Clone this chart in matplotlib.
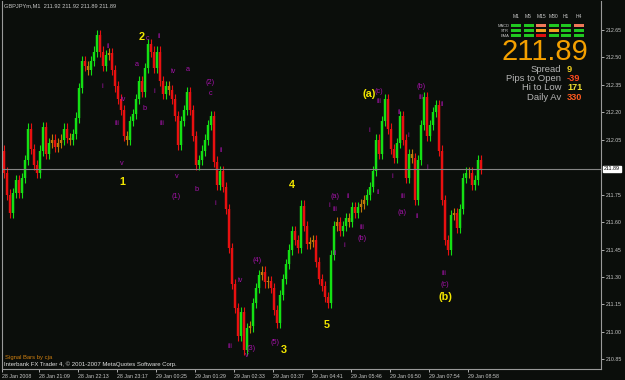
import matplotlib.pyplot as plt
from matplotlib.patches import Rectangle

# GBPJPYm, M1, 28-29 Jan 2008 -- closes (one bar per ~3 px)
first_open = 211.99
closes = [
    211.87, 211.75, 211.65, 211.76, 211.83, 211.76, 211.84, 211.94, 212.11, 212.00,
    211.91, 211.87, 211.99, 212.12, 211.97, 212.03, 212.05, 212.01, 212.03, 212.05,
    212.11, 212.06, 212.05, 212.08, 212.17, 212.33, 212.48, 212.45, 212.43, 212.48,
    212.53, 212.62, 212.53, 212.45, 212.51, 212.52, 212.43, 212.34, 212.27, 212.21,
    212.07, 212.05, 212.15, 212.19, 212.27, 212.37, 212.31, 212.44, 212.57, 212.53,
    212.44, 212.53, 212.37, 212.30, 212.34, 212.32, 212.27, 212.18, 212.02, 212.15,
    212.21, 212.31, 212.21, 212.07, 211.91, 211.94, 211.99, 212.05, 212.13, 212.18,
    211.93, 211.80, 211.88, 211.79, 211.67, 211.46, 211.26, 211.13, 210.98, 211.11,
    210.90, 211.02, 211.03, 211.16, 211.24, 211.31, 211.33, 211.27, 211.28, 211.24,
    211.12, 211.05, 211.20, 211.29, 211.37, 211.45, 211.55, 211.50, 211.46, 211.69,
    211.58, 211.48, 211.49, 211.50, 211.38, 211.29, 211.25, 211.19, 211.16, 211.42,
    211.58, 211.60, 211.55, 211.58, 211.62, 211.60, 211.68, 211.65, 211.68, 211.70,
    211.72, 211.75, 211.79, 211.88, 212.05, 211.97, 212.15, 212.27, 212.11, 212.00,
    211.95, 212.03, 212.18, 212.05, 211.84, 211.97, 211.95, 211.72, 211.94, 212.13,
    212.28, 212.07, 212.13, 212.20, 212.24, 211.99, 211.72, 211.50, 211.45, 211.64,
    211.65, 211.57, 211.67, 211.84, 211.87, 211.87, 211.80, 211.83, 211.94, 211.89,
]

time_labels = ["28 Jan 2008", "28 Jan 21:09", "28 Jan 22:13", "28 Jan 23:17",
               "29 Jan 00:25", "29 Jan 01:29", "29 Jan 02:33", "29 Jan 03:37",
               "29 Jan 04:41", "29 Jan 05:46", "29 Jan 06:50", "29 Jan 07:54",
               "29 Jan 08:58"]
price_ticks = [212.65, 212.50, 212.35, 212.20, 212.05, 211.75, 211.60,
               211.45, 211.30, 211.15, 211.00, 210.85]

# elliott wave counts: (text, bar, price)
wave_major = [("1", 39.3, 211.82), ("2", 45.8, 212.61), ("3", 93.3, 210.90),
              ("4", 96.0, 211.80), ("5", 107.7, 211.04), ("(a)", 121.7, 212.30),
              ("(b)", 147.0, 211.19)]
wave_minor = [
    ("i", 32.7, 212.34), ("ii", 34.7, 212.56), ("iii", 37.7, 212.14),
    ("iv", 39.7, 212.27), ("v", 39.3, 211.92), ("a", 44.3, 212.46),
    ("b", 46.7, 212.22), ("c", 47.9, 212.60), ("ii", 51.7, 212.61),
    ("i", 50.0, 212.31), ("iii", 52.7, 212.14), ("iv", 56.3, 212.42),
    ("v", 57.7, 211.85), ("(1)", 57.3, 211.74), ("a", 61.3, 212.43),
    ("b", 64.3, 211.78), ("(2)", 68.7, 212.36), ("c", 69.0, 212.30),
    ("ii", 72.3, 211.99), ("i", 70.3, 211.70), ("iii", 75.3, 210.92),
    ("v", 81.0, 210.87), ("(3)", 82.3, 210.91), ("iv", 78.7, 211.28),
    ("(4)", 84.3, 211.39), ("(5)", 90.3, 210.94), ("i", 108.3, 211.69),
    ("(a)", 110.3, 211.74), ("iii", 110.3, 211.67), ("ii", 110.3, 211.43),
    ("i", 113.3, 211.47), ("ii", 114.7, 211.74), ("iii", 119.3, 211.57),
    ("(b)", 119.3, 211.51), ("ii", 124.7, 211.76), ("i", 121.7, 212.10),
    ("(c)", 125.0, 212.31), ("iii", 125.0, 212.26), ("ii", 131.7, 212.20),
    ("i", 134.7, 212.07), ("i", 129.3, 211.85), ("iii", 133.0, 211.74),
    ("(a)", 132.7, 211.65), ("ii", 137.7, 211.63), ("(b)", 139.0, 212.34),
    ("iii", 139.0, 212.28), ("ii", 146.0, 212.24), ("i", 141.0, 211.90),
    ("iii", 146.7, 211.32), ("(c)", 147.0, 211.26),
]

# signal panel
panel_cols = ["M1", "M5", "M15", "M30", "H1", "H4"]
panel_rows = ["MACD", "STR", "EMA"]
panel_states = [["g", "g", "s", "g", "g", "s"],
                ["g", "g", "o", "o", "g", "g"],
                ["g", "g", "r", "g", "g", "g"]]
stat_names = ["Spread", "Pips to Open", "Hi to Low", "Daily Av"]
stat_values = ["9", "-39", "171", "330"]

BG = "#0b0e0b"
GREEN, RED, ORANGE = "#14e014", "#e81010", "#c07a08"
PURPLE, YELLOW = "#a312a8", "#f2e600"
GRID = "#9a9a9a"
TXT = "#c8c8c8"
WICK = 0.028

plt.rcParams['font.family'] = ['Liberation Sans', 'DejaVu Sans']

W, H = 625, 380
fig = plt.figure(figsize=(W / 100, H / 100), dpi=100, facecolor=BG)
ax = fig.add_axes([2 / W, 11 / H, 599 / W, 368 / H], facecolor=BG)

opens = [first_open] + closes[:-1]
idx = list(range(len(closes)))
cols = []
for o, c in zip(opens, closes):
    if abs(c - o) < 0.025:
        cols.append(ORANGE)
    else:
        cols.append(GREEN if c > o else RED)
lows = [min(o, c) - WICK for o, c in zip(opens, closes)]
highs = [max(o, c) + WICK for o, c in zip(opens, closes)]
ax.vlines(idx, lows, highs, colors=cols, lw=0.8)
ax.vlines(idx, [min(o, c) for o, c in zip(opens, closes)],
          [max(o, c) for o, c in zip(opens, closes)], colors=cols, lw=1.75)

last = closes[-1]
ax.axhline(last, color="#858585", lw=0.8)

ax.set_xlim(-0.67, 199)
ax.set_ylim(210.798, 212.806)

for t, x, y in wave_minor:
    ax.text(x, y, t, color=PURPLE, fontsize=5.3, ha='center', va='center')
for t, x, y in wave_major:
    ax.text(x, y, t, color=YELLOW, fontsize=7.8, fontweight='bold',
            ha='center', va='center')

# axes styling
for side in ['left', 'right', 'bottom']:
    ax.spines[side].set_color(GRID)
    ax.spines[side].set_linewidth(0.8)
ax.spines['top'].set_visible(False)

ax.yaxis.tick_right()
ax.set_yticks(price_ticks)
ax.set_yticklabels([f"{p:.2f}" for p in price_ticks])
ax.tick_params(axis='y', colors=TXT, labelsize=3.8, length=2.5, width=0.6, pad=1.2)

tick_pos = [-0.6] + [11.7 + 13 * k for k in range(len(time_labels) - 1)]
ax.set_xticks(tick_pos)
ax.set_xticklabels(time_labels, ha='left')
ax.tick_params(axis='x', colors=TXT, labelsize=3.8, length=2.5, width=0.6, pad=1.0)

ax.annotate(f"{last:.2f}", xy=(1, last), xycoords=('axes fraction', 'data'),
            xytext=(2.2, 0), textcoords='offset points', ha='left', va='center',
            fontsize=3.8, color='black',
            bbox=dict(boxstyle='square,pad=0.15', fc='white', ec='white'))

# overlay in pixel coordinates for the MT4 texts
ov = fig.add_axes([0, 0, 1, 1])
ov.set_xlim(0, W)
ov.set_ylim(H, 0)
ov.axis('off')

ov.text(4, 6, "GBPJPYm,M1  211.92 211.92 211.89 211.89", color=TXT,
        fontsize=4.1, ha='left', va='center')
ov.text(5, 358, "Signal Bars by cja", color="#d08010", fontsize=4.2,
        ha='left', va='center')
ov.text(4, 364.5, "Interbank FX Trader 4, \u00a9 2001-2007 MetaQuotes Software Corp.",
        color="#e0e0e0", fontsize=4.3, ha='left', va='center')

state_colour = {"g": "#20c820", "s": "#f07858", "o": "#f0a020", "r": "#e01010"}
for j, name in enumerate(panel_cols):
    cx = 516 + 12.5 * j
    ov.text(cx, 17, name, color=TXT, fontsize=3.6, ha='center', va='center')
for i, name in enumerate(panel_rows):
    cy = 25.7 + 5 * i
    ov.text(509, cy, name, color=TXT, fontsize=2.9, ha='right', va='center')
    for j in range(len(panel_cols)):
        ov.add_patch(Rectangle((511 + 12.5 * j, cy - 1.8), 10, 3.6,
                               color=state_colour[panel_states[i][j]], lw=0))

ov.text(545, 52, f"{last:.2f}", color="#f5a000", fontsize=21,
        family=['Liberation Sans Narrow', 'Liberation Sans'],
        ha='center', va='center')

stat_colours = ["#f0d020", "#ff4a20", "#f0e030", "#ff5a20"]
for k, (name, val) in enumerate(zip(stat_names, stat_values)):
    y = 69 + 9.4 * k
    ov.text(561, y, name, color="#b4b4b4", fontsize=6.8, ha='right', va='center')
    ov.text(567, y, val, color=stat_colours[k], fontsize=6.6, fontweight='bold',
            ha='left', va='center')

fig.savefig("out.png", dpi=100, facecolor=BG)
